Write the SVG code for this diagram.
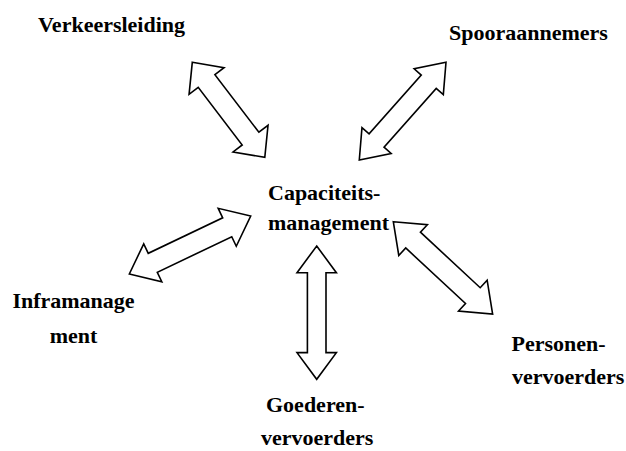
<svg xmlns="http://www.w3.org/2000/svg" width="626" height="451" viewBox="0 0 626 451">
<style>
.t{font-family:"Liberation Serif","Times New Roman",serif;font-weight:bold;font-size:22px;fill:#000}
.a{fill:#fff;stroke:#000;stroke-width:1.6;stroke-linejoin:miter}
</style>
<rect width="626" height="451" fill="#fff"/>
<g id="connectors">
<polygon class="a" transform="translate(192.3,62.3) rotate(52.65)" points="0,0 23.5,-22 23.5,-10.5 96,-10.5 96,-22 119.5,0 96,22 96,10.5 23.5,10.5 23.5,22"/>
<polygon class="a" transform="translate(446,62.3) rotate(131.6)" points="0,0 26,-19.5 26,-10 104.6,-10 104.6,-19.5 130.6,0 104.6,19.5 104.6,10 26,10 26,19.5"/>
<polygon class="a" transform="translate(129.3,274) rotate(-25.5)" points="0,0 26,-21 26,-10.5 108.5,-10.5 108.5,-21 134.5,0 108.5,21 108.5,10.5 26,10.5 26,21"/>
<polygon class="a" transform="translate(316.7,246) rotate(90)" points="0,0 26.7,-19.7 26.7,-9.3 106.6,-9.3 106.6,-19.7 133.3,0 106.6,19.7 106.6,9.3 26.7,9.3 26.7,19.7"/>
<polygon class="a" transform="translate(393.3,221.7) rotate(42.9)" points="0,0 27,-21 27,-10.8 108.6,-10.8 108.6,-21 135.6,0 108.6,21 108.6,10.8 27,10.8 27,21"/>
</g>
<g id="verkeersleiding"><text class="t" x="38" y="31.5">Verkeersleiding</text></g>
<g id="spooraannemers"><text class="t" x="449" y="39.5">Spooraannemers</text></g>
<g id="capaciteitsmanagement"><text class="t" x="268" y="199.5">Capaciteits-</text><text class="t" x="268" y="230">management</text></g>
<g id="inframanagement"><text class="t" x="73.5" y="308" text-anchor="middle">Inframanage</text><text class="t" x="73.5" y="343" text-anchor="middle">ment</text></g>
<g id="personenvervoerders"><text class="t" x="511.5" y="351">Personen-</text><text class="t" x="512" y="384">vervoerders</text></g>
<g id="goederenvervoerders"><text class="t" x="266" y="412">Goederen-</text><text class="t" x="261" y="445">vervoerders</text></g>
</svg>
